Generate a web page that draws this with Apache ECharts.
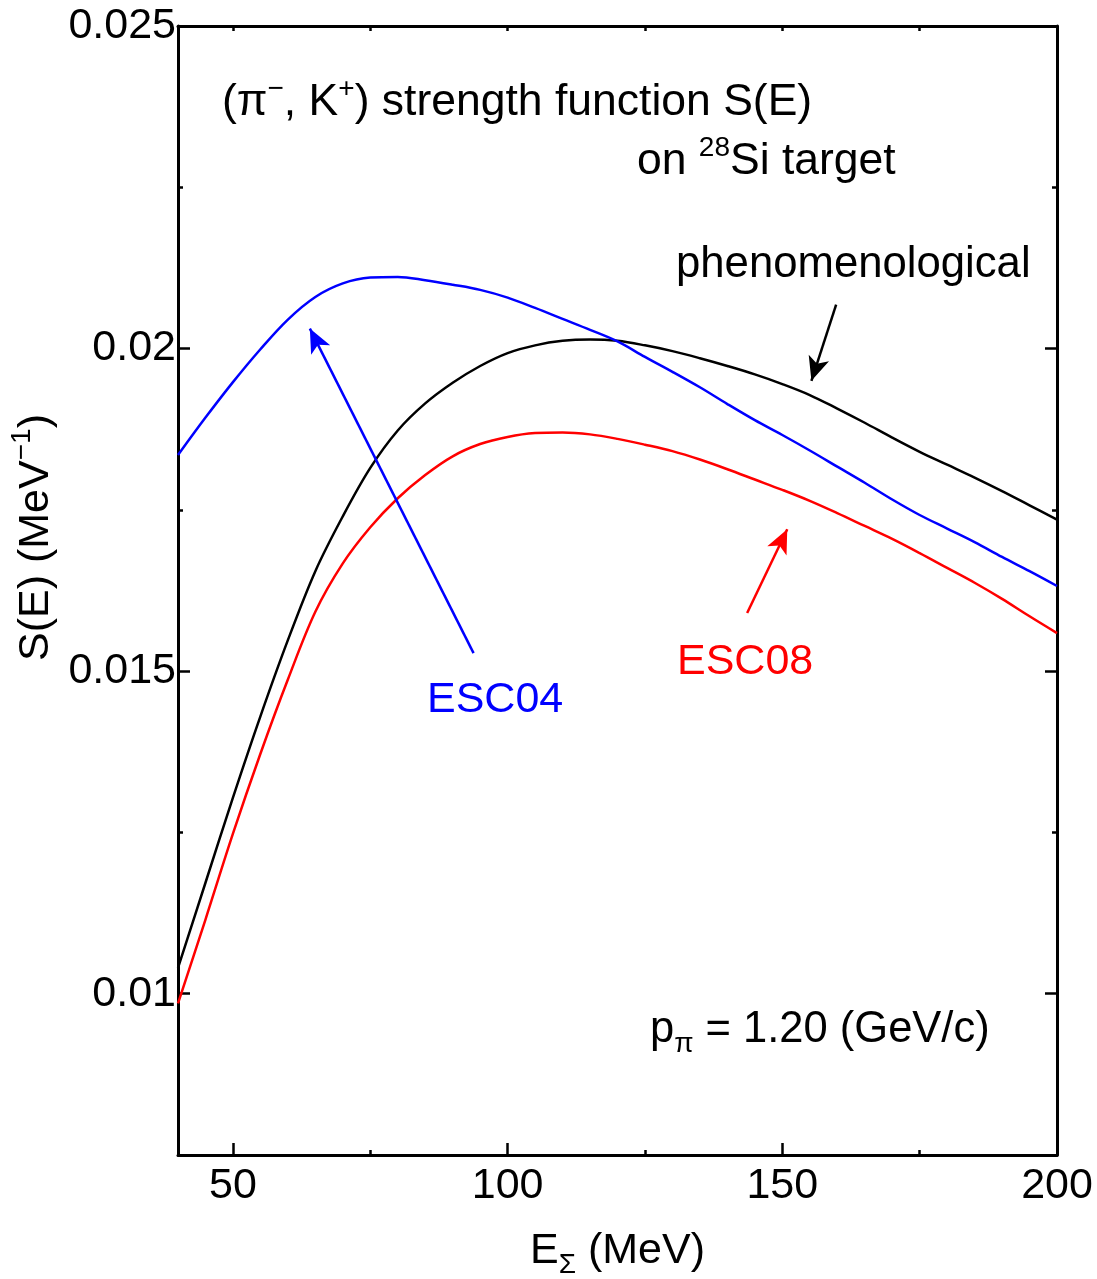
<!DOCTYPE html>
<html>
<head>
<meta charset="utf-8">
<title>strength function</title>
<script src="https://cdn.jsdelivr.net/npm/echarts@6/dist/echarts.min.js"></script>
<style>
  html, body { margin: 0; padding: 0; background: #fff; }
  #chart { width: 1097px; height: 1279px; }
</style>
</head>
<body>
<div id="chart"></div>
<script>
// E_Sigma (MeV)
var energy = [40, 45, 50, 55, 60, 65, 70, 75, 80, 85, 90, 95, 100, 105, 110, 115, 120,
    125, 130, 135, 140, 145, 150, 155, 160, 165, 170, 175, 180, 185, 190, 195, 200];
// phenomenological (black)
var phenoVals = [0.01040, 0.01172, 0.01304, 0.01430, 0.01548, 0.01655, 0.01740, 0.01815, 0.01873,
    0.01915, 0.01947, 0.01973, 0.01993, 0.02005, 0.02012, 0.02014, 0.02012, 0.02005, 0.01996,
    0.01985, 0.01973, 0.01960, 0.01945, 0.01928, 0.01907, 0.01885, 0.01862, 0.01840, 0.01820,
    0.01800, 0.01779, 0.01757, 0.01735];
// ESC04 (blue)
var esc04Vals = [0.01835, 0.01893, 0.01948, 0.01999, 0.02045, 0.02080, 0.02101, 0.02110, 0.02111,
    0.02106, 0.02099, 0.02091, 0.02079, 0.02063, 0.02046, 0.02029, 0.02011, 0.01987, 0.01964,
    0.01940, 0.01914, 0.01889, 0.01866, 0.01842, 0.01817, 0.01792, 0.01766, 0.01742, 0.01721,
    0.01700, 0.01677, 0.01655, 0.01632];
// ESC08 (red)
var esc08Vals = [0.00985, 0.01115, 0.01248, 0.01372, 0.01487, 0.01592, 0.01667, 0.01723, 0.01768,
    0.01804, 0.01833, 0.01852, 0.01863, 0.01869, 0.01870, 0.01867, 0.01860, 0.01851, 0.01841,
    0.01828, 0.01813, 0.01797, 0.01781, 0.01764, 0.01745, 0.01725, 0.01705, 0.01683, 0.01660,
    0.01637, 0.01612, 0.01585, 0.01559];

var xMajor = [50, 100, 150, 200];
var xMinor = [75, 125, 175];
var xTop = [50, 75, 100, 125, 150, 175];
var yMajor = [0.01, 0.015, 0.02, 0.025];
var yMinor = [0.0125, 0.0175, 0.0225];

// arrows: [tail, head] in data units
var arrowEsc04 = [[93.8, 0.01528], [64.0, 0.02031]];
var arrowEsc08 = [[143.6, 0.01590], [150.9, 0.01720]];
var arrowPheno = [[159.8, 0.02068], [155.3, 0.01950]];

var FONT = '"Liberation Sans", Arial, sans-serif';

function pairs(xs, ys) {
    var out = [];
    for (var i = 0; i < xs.length; i++) out.push([xs[i], ys[i]]);
    return out;
}

function tickAxis(pos, vals, len, withLine, kind) {
    var ax = {
        type: 'value',
        position: pos,
        min: kind === 'x' ? 40 : 0.0075,
        max: kind === 'x' ? 200 : 0.025,
        axisLine: { show: withLine, onZero: false, lineStyle: { color: '#000', width: 3 } },
        axisTick: { show: true, inside: true, length: len, customValues: vals,
            lineStyle: { color: '#000', width: 2.5 } },
        axisLabel: { show: false },
        splitLine: { show: false }
    };
    return ax;
}

function arrowLine(pair, col) {
    return {
        silent: true,
        symbol: ['none', 'arrow'],
        symbolSize: [16, 24],
        label: { show: false },
        lineStyle: { color: col, width: 2.5, type: 'solid' },
        data: [[{ coord: pair[0] }, { coord: pair[1] }]]
    };
}

var myChart = echarts.init(document.getElementById('chart'));

var xMain = tickAxis('bottom', xMajor, 12, true, 'x');
xMain.axisLabel = { show: true, customValues: xMajor, fontSize: 43, color: '#000',
    fontFamily: FONT, margin: 10 };
xMain.name = '{a|E}{s|Σ}{a| (MeV)}';
xMain.nameLocation = 'middle';
xMain.nameGap = 68;
xMain.nameTextStyle = {
    rich: {
        a: { fontSize: 43, fontFamily: FONT, color: '#000', lineHeight: 56 },
        s: { fontSize: 28, fontFamily: FONT, color: '#000', lineHeight: 34, verticalAlign: 'bottom' }
    }
};

var yMain = tickAxis('left', yMajor, 12, true, 'y');
yMain.axisLabel = { show: true, customValues: yMajor, fontSize: 43, color: '#000',
    fontFamily: FONT, margin: 2 };
yMain.name = '{a|S(E) (MeV}{p|−1}{a|)}';
yMain.nameLocation = 'middle';
yMain.nameRotate = 90;
yMain.nameGap = 98;
yMain.nameTextStyle = {
    padding: [0, 0, 0, 106],
    rich: {
        a: { fontSize: 43, fontFamily: FONT, color: '#000', lineHeight: 56 },
        p: { fontSize: 28, fontFamily: FONT, color: '#000', lineHeight: 34, verticalAlign: 'top' }
    }
};

function textEl(x, y, txt, col, size) {
    return {
        type: 'text',
        x: x,
        y: y,
        silent: true,
        style: {
            text: txt,
            textAlign: 'left',
            textVerticalAlign: 'middle',
            rich: {
                a: { fontSize: size, fontFamily: FONT, fill: col, color: col, lineHeight: 56 },
                p: { fontSize: 28, fontFamily: FONT, fill: col, color: col, lineHeight: 34, verticalAlign: 'top' },
                s: { fontSize: 28, fontFamily: FONT, fill: col, color: col, lineHeight: 34, verticalAlign: 'bottom' }
            }
        }
    };
}

var option = {
    backgroundColor: '#fff',
    animation: false,
    grid: { left: 178, right: 40, top: 26, bottom: 124, containLabel: false, outerBoundsMode: 'none' },
    xAxis: [
        xMain,
        tickAxis('bottom', xMinor, 5, false, 'x'),
        tickAxis('top', xTop, 5, true, 'x')
    ],
    yAxis: [
        yMain,
        tickAxis('left', yMinor, 5, false, 'y'),
        tickAxis('right', [0.01, 0.015, 0.02], 12, true, 'y'),
        tickAxis('right', yMinor, 5, false, 'y')
    ],
    series: [{
        name: 'phenomenological',
        type: 'line',
        data: pairs(energy, phenoVals),
        smooth: 0.35,
        showSymbol: false,
        lineStyle: { color: '#000', width: 2.5 },
        markLine: arrowLine(arrowPheno, '#000')
    }, {
        name: 'ESC04',
        type: 'line',
        data: pairs(energy, esc04Vals),
        smooth: 0.35,
        showSymbol: false,
        lineStyle: { color: '#0000ff', width: 2.5 },
        markLine: arrowLine(arrowEsc04, '#0000ff')
    }, {
        name: 'ESC08',
        type: 'line',
        data: pairs(energy, esc08Vals),
        smooth: 0.35,
        showSymbol: false,
        lineStyle: { color: '#ff0000', width: 2.5 },
        markLine: arrowLine(arrowEsc08, '#ff0000')
    }],
    graphic: [
        textEl(222, 103, '{a|(π}{p|−}{a|, K}{p|+}{a|) strength function S(E)}', '#000', 44.5),
        textEl(637, 162, '{a|on }{p|28}{a|Si target}', '#000', 44.5),
        textEl(676, 265, '{a|phenomenological}', '#000', 43.7),
        textEl(427, 700, '{a|ESC04}', '#0000ff', 43),
        textEl(677, 662, '{a|ESC08}', '#ff0000', 43),
        textEl(650, 1030, '{a|p}{s|π}{a| = 1.20 (GeV/c)}', '#000', 43.5)
    ]
};

myChart.setOption(option);
</script>
</body>
</html>
